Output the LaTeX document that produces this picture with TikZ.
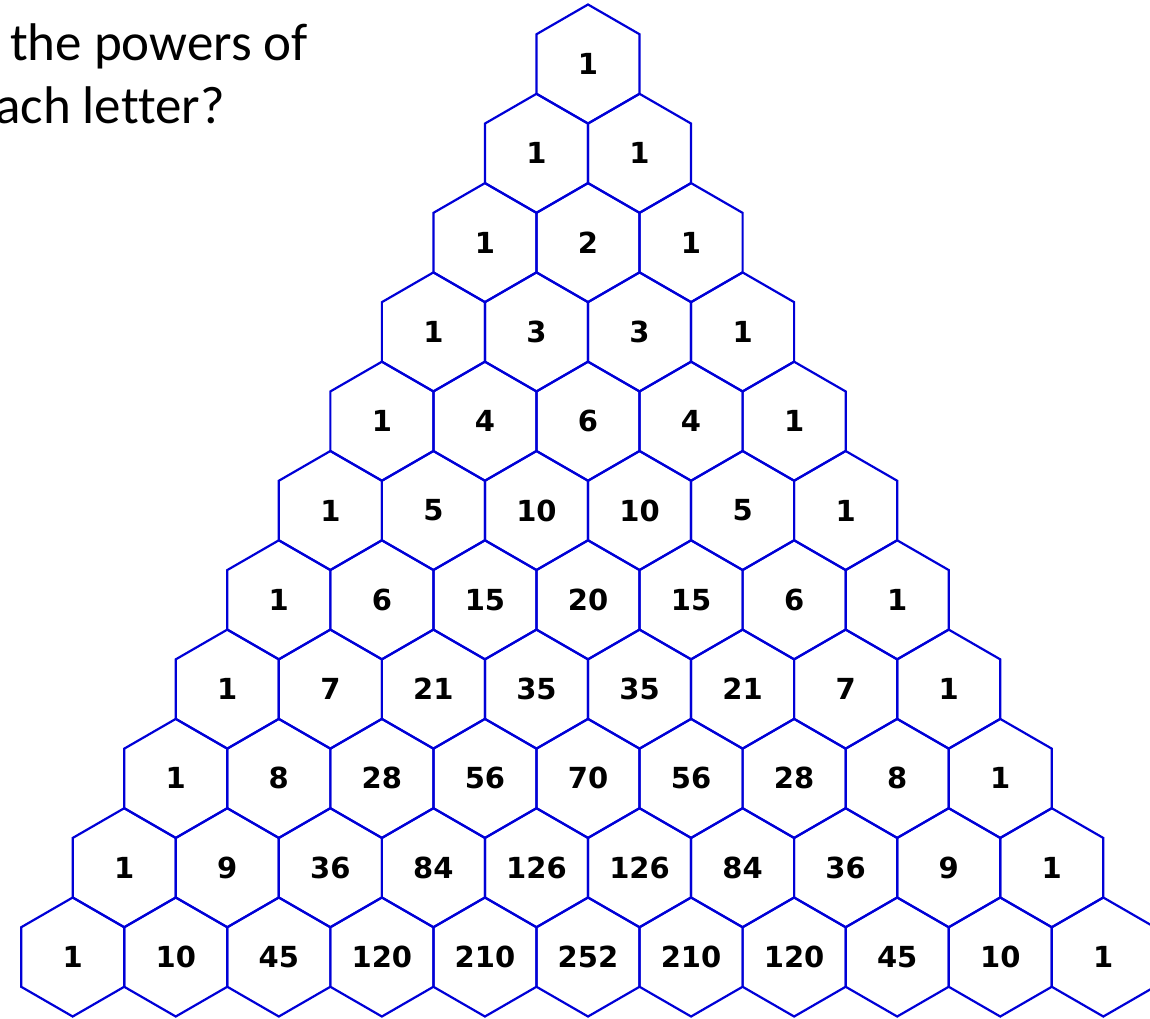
\documentclass[tikz,border=0pt]{standalone}
\usepackage{fontspec}
\setmainfont[Ligatures=NoCommon]{Carlito}
\newfontfamily\pascalNumFont{DejaVu Sans}
\usetikzlibrary{shapes.geometric}

\definecolor{hexblue}{RGB}{0,0,215}
\newcommand{\pascalHexSize}{119pt}
\newcommand{\pascalColW}{103.06}
\newcommand{\pascalRowH}{89.3}
\newcommand{\pascalTopX}{588}
\newcommand{\pascalTopY}{64}
\tikzset{
  pt base/.style={font=\pascalNumFont\bfseries\fontsize{29}{29}\selectfont},
  pt hex/.style={draw=hexblue, line width=2.2pt, regular polygon,
    regular polygon sides=6, shape border rotate=30,
    minimum size=\pascalHexSize, inner sep=0pt},
  pt question/.style={font=\fontsize{53}{63}\selectfont, inner sep=0pt,
    anchor=base west},
}
% one row of the triangle: row number, then its entries
\newcommand{\pascalRow}[2]{%
  \foreach \v [count=\k from 0] in {#2}
    \node (h#1-\k) [pt hex] at ({\pascalTopX+(\k-#1/2)*\pascalColW},
                                {\pascalTopY+#1*\pascalRowH}) {\v};}

\begin{document}
\begin{tikzpicture}[x=1pt, y=-1pt, pt base]
\useasboundingbox (0,0) rectangle (1150,1018);
\clip (0,0) rectangle (1150,1018);

\node (q1) [pt question] at (10,60)  {the powers of};
\node (q2) [pt question] at (-5,123) {ach letter?};

\pascalRow{0}{1}
\pascalRow{1}{1,1}
\pascalRow{2}{1,2,1}
\pascalRow{3}{1,3,3,1}
\pascalRow{4}{1,4,6,4,1}
\pascalRow{5}{1,5,10,10,5,1}
\pascalRow{6}{1,6,15,20,15,6,1}
\pascalRow{7}{1,7,21,35,35,21,7,1}
\pascalRow{8}{1,8,28,56,70,56,28,8,1}
\pascalRow{9}{1,9,36,84,126,126,84,36,9,1}
\pascalRow{10}{1,10,45,120,210,252,210,120,45,10,1}
\end{tikzpicture}
\end{document}
